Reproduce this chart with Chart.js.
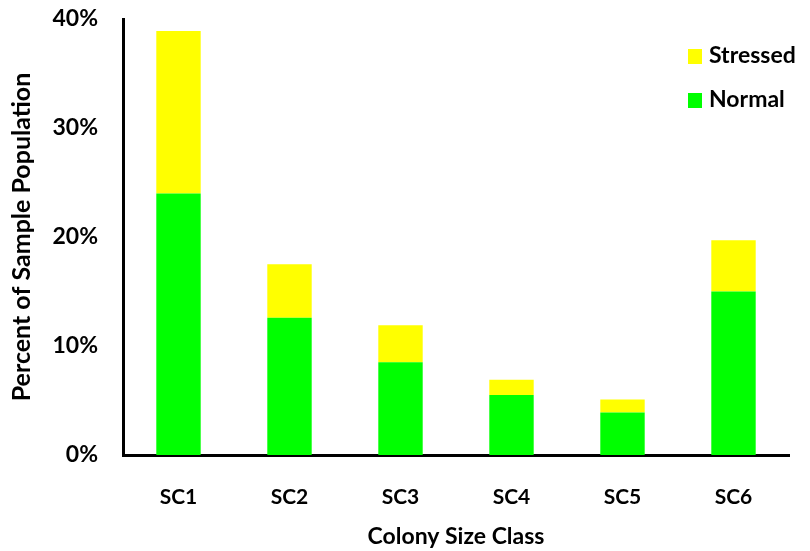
<!DOCTYPE html>
<html>
<head>
<meta charset="utf-8">
<style>
  html, body { margin: 0; padding: 0; background: #ffffff; }
  #wrap { width: 810px; height: 551px; position: relative; }
</style>
<script src="https://cdn.jsdelivr.net/npm/chart.js@4/dist/chart.umd.min.js"></script>
</head>
<body>
<div id="wrap"><canvas id="c" width="810" height="551"></canvas></div>
<script>
const categories = ["SC1", "SC2", "SC3", "SC4", "SC5", "SC6"];
const normalValues = [24.0, 12.6, 8.5, 5.5, 3.9, 15.0];
const stressedValues = [14.9, 4.9, 3.4, 1.4, 1.2, 4.7];
const yTicks = [0, 10, 20, 30, 40];
const seriesNames = ["Normal", "Stressed"];
const seriesColors = ["#00FF00", "#FFFF00"];

const FONT = "Lato, 'Open Sans', 'DejaVu Sans', sans-serif";

const insideLegend = {
  id: 'insideLegend',
  afterDraw(chart) {
    const ctx = chart.ctx;
    const ds = chart.data.datasets.slice().reverse();
    ctx.save();
    ctx.font = "bold 23px " + FONT;
    ctx.textBaseline = 'middle';
    ctx.textAlign = 'left';
    const x0 = chart.chartArea.right - 101;
    let y = chart.chartArea.top + 37;
    ds.forEach(d => {
      ctx.fillStyle = d.backgroundColor;
      ctx.fillRect(x0, y - 7, 14, 15);
      ctx.fillStyle = '#000000';
      ctx.fillText(d.label, x0 + 21, y);
      y += 44;
    });
    ctx.restore();
  }
};

new Chart(document.getElementById('c'), {
  type: 'bar',
  data: {
    labels: categories,
    datasets: [
      { label: seriesNames[0], data: normalValues, backgroundColor: seriesColors[0] },
      { label: seriesNames[1], data: stressedValues, backgroundColor: seriesColors[1] }
    ]
  },
  options: {
    responsive: false,
    animation: false,
    devicePixelRatio: 1,
    layout: { padding: { top: 0, right: 21, left: 0, bottom: 0 } },
    datasets: { bar: { categoryPercentage: 1.0, barPercentage: 0.4 } },
    plugins: { legend: { display: false }, tooltip: { enabled: false } },
    scales: {
      x: {
        stacked: true,
        grid: { display: false, drawTicks: false },
        border: { display: true, color: '#000000', width: 3 },
        ticks: { color: '#000000', padding: 30, font: { family: FONT, size: 21, weight: 'bold' } },
        title: { display: true, text: 'Colony Size Class', color: '#000000',
                 font: { family: FONT, size: 23, weight: 'bold' }, padding: { top: 0, bottom: 1 } },
        afterFit(scale) { scale.height = 96; scale.paddingLeft = 0; scale.paddingRight = 0; }
      },
      y: {
        stacked: true,
        min: 0, max: 40,
        afterBuildTicks(scale) { scale.ticks = yTicks.map(v => ({ value: v })); },
        grid: { display: false, drawTicks: false },
        border: { display: true, color: '#000000', width: 3 },
        ticks: { color: '#000000', padding: 25, font: { family: FONT, size: 23, weight: 'bold' },
                 callback: v => v + '%' },
        title: { display: true, text: 'Percent of Sample Population', color: '#000000',
                 font: { family: FONT, size: 25, weight: 'bold' }, padding: { top: 7, bottom: 0 } },
        afterFit(scale) { scale.width = 123; scale.paddingTop = 19; scale.paddingBottom = 0; }
      }
    }
  },
  plugins: [insideLegend]
});
</script>
</body>
</html>
